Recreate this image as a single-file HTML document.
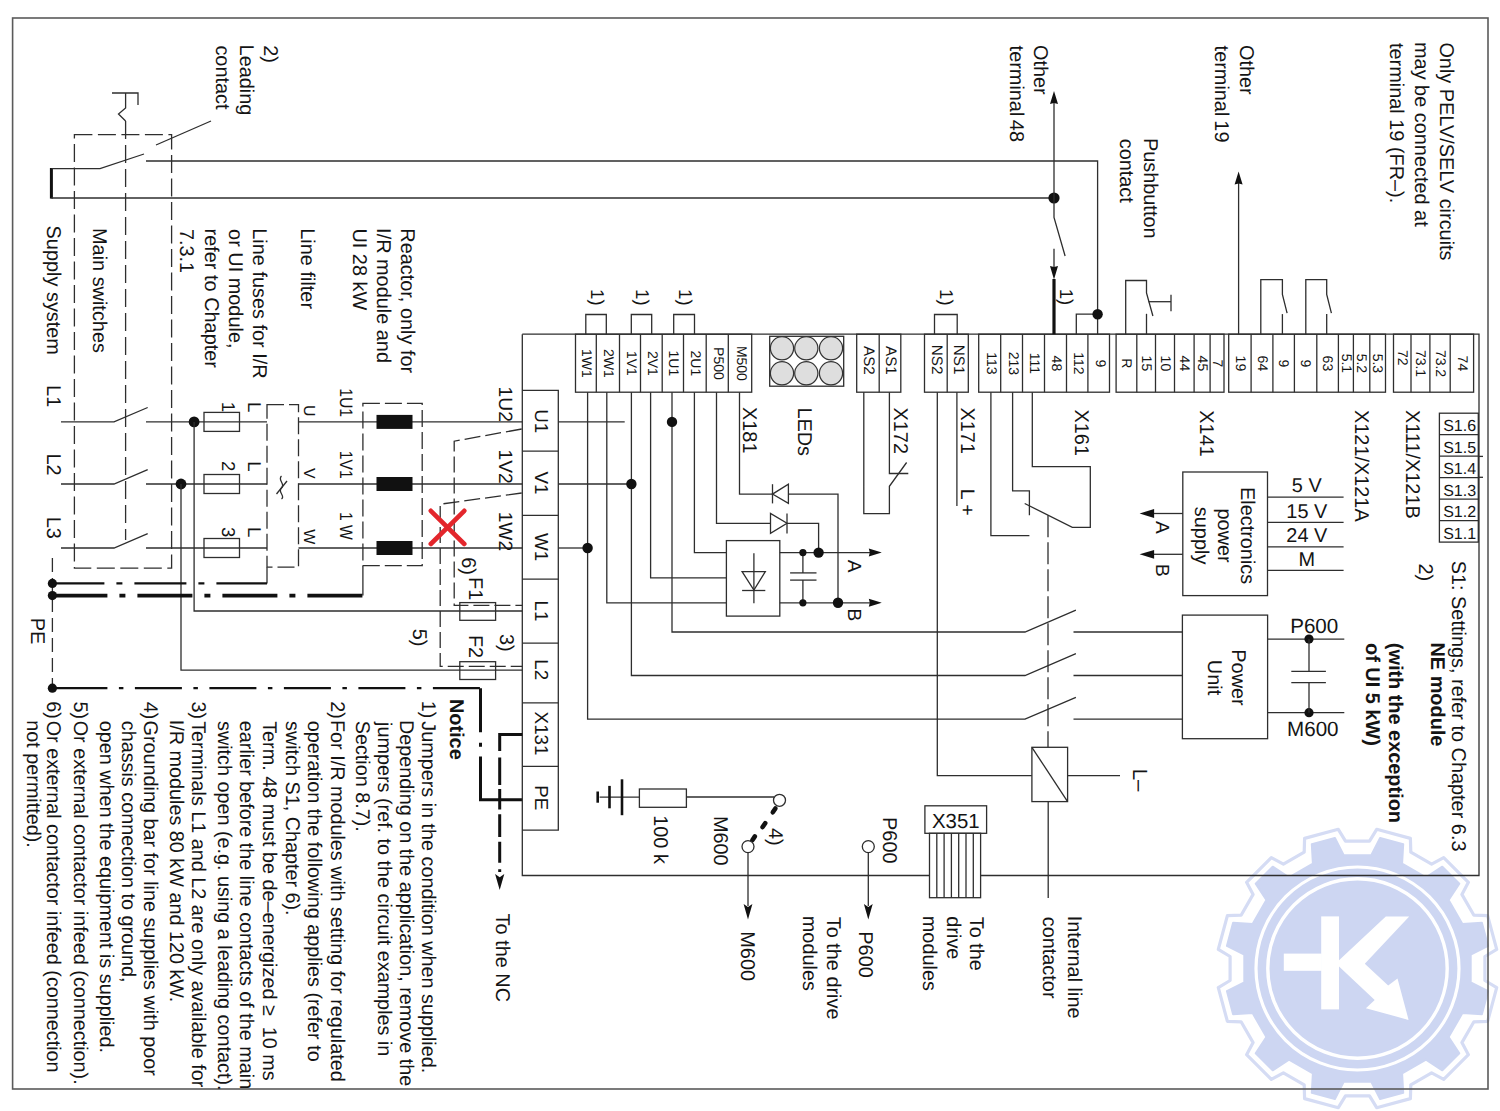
<!DOCTYPE html>
<html><head><meta charset="utf-8"><title>NE module wiring</title>
<style>html,body{margin:0;padding:0;background:#fff;overflow:hidden}svg{display:block}
text{font-family:"Liberation Sans", sans-serif;text-rendering:geometricPrecision}</style></head>
<body><svg width="1500" height="1111" viewBox="0 0 1500 1111">
<rect x="0" y="0" width="1500" height="1111" fill="#fff"/>
<path d="M1484.9,980.5 L1496.7,987.7 L1487.6,1021.4 L1473.9,1021.8 L1461.9,1042.6 L1468.4,1054.7 L1443.7,1079.4 L1431.6,1072.9 L1410.8,1084.9 L1410.4,1098.6 L1376.7,1107.7 L1369.5,1095.9 L1345.5,1095.9 L1338.3,1107.7 L1304.6,1098.6 L1304.2,1084.9 L1283.4,1072.9 L1271.3,1079.4 L1246.6,1054.7 L1253.1,1042.6 L1241.1,1021.8 L1227.4,1021.4 L1218.3,987.7 L1230.1,980.5 L1230.1,956.5 L1218.3,949.3 L1227.4,915.6 L1241.1,915.2 L1253.1,894.4 L1246.6,882.3 L1271.3,857.6 L1283.4,864.1 L1304.2,852.1 L1304.6,838.4 L1338.3,829.3 L1345.5,841.1 L1369.5,841.1 L1376.7,829.3 L1410.4,838.4 L1410.8,852.1 L1431.6,864.1 L1443.7,857.6 L1468.4,882.3 L1461.9,894.4 L1473.9,915.2 L1487.6,915.6 L1496.7,949.3 L1484.9,956.5 Z" fill="none" stroke="#d5dcf4" stroke-width="3.2" stroke-linejoin="round"/>
<path d="M1470.7,982.3 L1488.1,991.1 L1481.9,1014.2 L1462.4,1013.1 L1448.6,1037.0 L1459.3,1053.3 L1442.3,1070.3 L1426.0,1059.6 L1402.1,1073.4 L1403.2,1092.9 L1380.1,1099.1 L1371.3,1081.7 L1343.7,1081.7 L1334.9,1099.1 L1311.8,1092.9 L1312.9,1073.4 L1289.0,1059.6 L1272.7,1070.3 L1255.7,1053.3 L1266.4,1037.0 L1252.6,1013.1 L1233.1,1014.2 L1226.9,991.1 L1244.3,982.3 L1244.3,954.7 L1226.9,945.9 L1233.1,922.8 L1252.6,923.9 L1266.4,900.0 L1255.7,883.7 L1272.7,866.7 L1289.0,877.4 L1312.9,863.6 L1311.8,844.1 L1334.9,837.9 L1343.7,855.3 L1371.3,855.3 L1380.1,837.9 L1403.2,844.1 L1402.1,863.6 L1426.0,877.4 L1442.3,866.7 L1459.3,883.7 L1448.6,900.0 L1462.4,923.9 L1481.9,922.8 L1488.1,945.9 L1470.7,954.7 Z" fill="#cdd6f2" stroke="#cdd6f2" stroke-width="2" stroke-linejoin="round"/>
<circle cx="1357.5" cy="968.5" r="101.5" fill="none" stroke="#fff" stroke-width="3.2"/>
<circle cx="1357.5" cy="968.5" r="89.7" fill="none" stroke="#fff" stroke-width="3.4"/>
<rect x="1321.2" y="916.4" width="17.8" height="93" fill="#fff"/>
<rect x="1283.8" y="953.6" width="38" height="17.2" fill="#fff"/>
<polygon points="1338.5,960.8 1385.8,916.4 1409.2,916.4 1364.8,963.8 1388.2,985.4 1397.5,978.4 1408.6,1019.9 1365.9,1008.2 1374.7,1000 1338.5,966.1" fill="#fff"/>
<rect x="12.6" y="18" width="1475.4" height="1071" fill="none" stroke="#5a5a5a" stroke-width="1.6"/>
<polyline points="51.4,168 51.4,198.6" fill="none" stroke="#111" stroke-width="3"/>
<polyline points="51.4,168.6 100,168.6 144,154" fill="none" stroke="#2e2e2e" stroke-width="1.3"/>
<polyline points="146,161 1097.6,161 1097.6,334.2" fill="none" stroke="#2e2e2e" stroke-width="1.3"/>
<polyline points="156,145 211,121" fill="none" stroke="#2e2e2e" stroke-width="1.3"/>
<polyline points="51.4,198 1054,198" fill="none" stroke="#2e2e2e" stroke-width="1.3"/>
<circle cx="1054" cy="198" r="5.6" fill="#111"/>
<rect x="74.4" y="134.6" width="97.2" height="433.5" fill="none" stroke="#2e2e2e" stroke-width="1.3" stroke-dasharray="18 5.5"/>
<polyline points="112,93 138,93 138,105" fill="none" stroke="#2e2e2e" stroke-width="1.3"/>
<polyline points="125.6,93 125.6,108 118.5,114 125.6,121" fill="none" stroke="#2e2e2e" stroke-width="1.3"/>
<polyline points="125.6,121 125.6,540" fill="none" stroke="#2e2e2e" stroke-width="1.3" stroke-dasharray="18 6"/>
<polyline points="61,421.9 114,421.9 147.7,407.5" fill="none" stroke="#2e2e2e" stroke-width="1.3"/>
<polyline points="146,421.9 267,421.9" fill="none" stroke="#2e2e2e" stroke-width="1.3"/>
<polyline points="298.5,421.9 522.3,421.9" fill="none" stroke="#2e2e2e" stroke-width="1.3"/>
<polyline points="61,484 114,484 147.7,469.6" fill="none" stroke="#2e2e2e" stroke-width="1.3"/>
<polyline points="146,484 267,484" fill="none" stroke="#2e2e2e" stroke-width="1.3"/>
<polyline points="298.5,484 522.3,484" fill="none" stroke="#2e2e2e" stroke-width="1.3"/>
<polyline points="61,548 114,548 147.7,533.6" fill="none" stroke="#2e2e2e" stroke-width="1.3"/>
<polyline points="146,548 267,548" fill="none" stroke="#2e2e2e" stroke-width="1.3"/>
<polyline points="298.5,548 522.3,548" fill="none" stroke="#2e2e2e" stroke-width="1.3"/>
<polyline points="558.3,421.9 624.7,421.9" fill="none" stroke="#2e2e2e" stroke-width="1.3"/>
<polyline points="558.3,484 631.4,484" fill="none" stroke="#2e2e2e" stroke-width="1.3"/>
<polyline points="558.3,548 587.6,548" fill="none" stroke="#2e2e2e" stroke-width="1.3"/>
<circle cx="194.1" cy="421.9" r="5.4" fill="#111"/>
<circle cx="181" cy="484" r="5.4" fill="#111"/>
<polyline points="194.1,421.9 194.1,611 522.3,611" fill="none" stroke="#2e2e2e" stroke-width="1.3"/>
<polyline points="181,484 181,670.2 522.3,670.2" fill="none" stroke="#2e2e2e" stroke-width="1.3"/>
<rect x="204" y="412.4" width="35.5" height="19" fill="none" stroke="#2e2e2e" stroke-width="1.3"/>
<rect x="204" y="474.5" width="35.5" height="19" fill="none" stroke="#2e2e2e" stroke-width="1.3"/>
<rect x="204" y="538.5" width="35.5" height="19" fill="none" stroke="#2e2e2e" stroke-width="1.3"/>
<text transform="translate(46.7 385.1) rotate(90)" font-size="19.9" fill="#141414">L1</text>
<text transform="translate(46.7 453.4) rotate(90)" font-size="19.9" fill="#141414">L2</text>
<text transform="translate(46.7 516.7) rotate(90)" font-size="19.9" fill="#141414">L3</text>
<text transform="translate(222.4 401.8) rotate(90)" font-size="18.5" fill="#141414">1</text>
<text transform="translate(222.4 461) rotate(90)" font-size="18.5" fill="#141414">2</text>
<text transform="translate(222.4 526.9) rotate(90)" font-size="18.5" fill="#141414">3</text>
<text transform="translate(247.6 401.9) rotate(90)" font-size="18.5" fill="#141414">L</text>
<text transform="translate(247.6 461.3) rotate(90)" font-size="18.5" fill="#141414">L</text>
<text transform="translate(247.6 527) rotate(90)" font-size="18.5" fill="#141414">L</text>
<rect x="267" y="404.7" width="31.5" height="162.5" fill="none" stroke="#2e2e2e" stroke-width="1.3" stroke-dasharray="17 5"/>
<path d="M281.5,476 C277,480 286,484 281.5,488 C277,492 286,496 281.5,499" fill="none" stroke="#2e2e2e" stroke-width="1.3"/>
<polyline points="276.5,494 287,481" fill="none" stroke="#2e2e2e" stroke-width="1.3"/>
<text transform="translate(304.3 404.9) rotate(90)" font-size="16" fill="#141414">U</text>
<text transform="translate(304.3 468.1) rotate(90)" font-size="16" fill="#141414">V</text>
<text transform="translate(304.3 529.3) rotate(90)" font-size="16" fill="#141414">W</text>
<rect x="362.9" y="403.4" width="59.3" height="162.3" fill="none" stroke="#2e2e2e" stroke-width="1.3" stroke-dasharray="17 5"/>
<rect x="376.5" y="414.9" width="36" height="14" fill="#111"/>
<rect x="376.5" y="477" width="36" height="14" fill="#111"/>
<rect x="376.5" y="541" width="36" height="14" fill="#111"/>
<text transform="translate(340.2 388.2) rotate(90) scale(0.873 1)" font-size="18" fill="#141414">1U1</text>
<text transform="translate(340.2 450.8) rotate(90) scale(0.873 1)" font-size="18" fill="#141414">1V1</text>
<text transform="translate(340.2 512) rotate(90) scale(0.873 1)" font-size="18" fill="#141414">1 W</text>
<text transform="translate(499 386.6) rotate(90)" font-size="19.2" fill="#141414">1U2</text>
<text transform="translate(499 449.6) rotate(90)" font-size="19.2" fill="#141414">1V2</text>
<text transform="translate(499 511.7) rotate(90)" font-size="19.2" fill="#141414">1W2</text>
<polyline points="267,567.2 267,583.4" fill="none" stroke="#2e2e2e" stroke-width="1.3"/>
<polyline points="362.9,565.7 362.9,595.6" fill="none" stroke="#2e2e2e" stroke-width="1.3"/>
<polyline points="52.4,583.4 267,583.4" fill="none" stroke="#111" stroke-width="2.2" stroke-dasharray="52 12 6 12"/>
<polyline points="52.4,595.6 362.9,595.6" fill="none" stroke="#111" stroke-width="3.6" stroke-dasharray="55 12 6 12"/>
<polyline points="52.4,688.2 480.7,688.2" fill="none" stroke="#111" stroke-width="2.2" stroke-dasharray="55 11.5 4.5 11.5 47 11.5 4.5 11.5 47 11.5 4.5 11.5 47 11.5 4.5 11.5 47 11.5 4.5 11.5 47 11.5 4.5 11.5"/>
<polyline points="480.5,688.2 480.5,799.7 522.3,799.7" fill="none" stroke="#111" stroke-width="3" stroke-dasharray="44 10.5 4 9.7 300"/>
<polyline points="52.4,558 52.4,692" fill="none" stroke="#2e2e2e" stroke-width="1.3" stroke-dasharray="14 6"/>
<circle cx="52.4" cy="583.4" r="4.6" fill="#111"/>
<circle cx="52.4" cy="595.6" r="4.6" fill="#111"/>
<circle cx="52.4" cy="688.2" r="4.6" fill="#111"/>
<text transform="translate(30.8 617.8) rotate(90)" font-size="19.9" fill="#141414">PE</text>
<polyline points="521.7,429 454.2,441.2 454.2,605.4 522.3,605.4" fill="none" stroke="#2e2e2e" stroke-width="1.3" stroke-dasharray="16 5"/>
<polyline points="521.7,493 440.2,504.2 440.2,666.4 522.3,666.4" fill="none" stroke="#2e2e2e" stroke-width="1.3" stroke-dasharray="16 5"/>
<rect x="459.8" y="602.6" width="35.8" height="17.7" fill="none" stroke="#2e2e2e" stroke-width="1.3"/>
<rect x="459.8" y="661.7" width="35.8" height="17.8" fill="none" stroke="#2e2e2e" stroke-width="1.3"/>
<text transform="translate(468.9 577.1) rotate(90)" font-size="19.9" fill="#141414">F1</text>
<text transform="translate(468.9 634.9) rotate(90)" font-size="19.9" fill="#141414">F2</text>
<text transform="translate(500 633.9) rotate(90)" font-size="19.9" fill="#141414">3)</text>
<text transform="translate(413 628.8) rotate(90)" font-size="19.9" fill="#141414">5)</text>
<text transform="translate(461.5 557.2) rotate(90)" font-size="19.9" fill="#141414">6)</text>
<polyline points="430.8,510.8 464.3,544" fill="none" stroke="#e3262c" stroke-width="4.6" stroke-linecap="round"/>
<polyline points="430.8,544 464.3,510.8" fill="none" stroke="#e3262c" stroke-width="4.6" stroke-linecap="round"/>
<polyline points="522.3,334.2 1479,334.2 1479,875.5 980.6,875.5" fill="none" stroke="#2e2e2e" stroke-width="1.3"/>
<polyline points="929.5,875.5 522.3,875.5 522.3,334.2" fill="none" stroke="#2e2e2e" stroke-width="1.3"/>
<polyline points="522.3,390.4 558.3,390.4 558.3,830.1 522.3,830.1" fill="none" stroke="#2e2e2e" stroke-width="1.3"/>
<polyline points="522.3,451.1 558.3,451.1" fill="none" stroke="#2e2e2e" stroke-width="1.3"/>
<polyline points="522.3,515.4 558.3,515.4" fill="none" stroke="#2e2e2e" stroke-width="1.3"/>
<polyline points="522.3,579.2 558.3,579.2" fill="none" stroke="#2e2e2e" stroke-width="1.3"/>
<polyline points="522.3,643.1 558.3,643.1" fill="none" stroke="#2e2e2e" stroke-width="1.3"/>
<polyline points="522.3,702.8 558.3,702.8" fill="none" stroke="#2e2e2e" stroke-width="1.3"/>
<polyline points="522.3,766.3 558.3,766.3" fill="none" stroke="#2e2e2e" stroke-width="1.3"/>
<text transform="translate(534.6 409.2) rotate(90)" font-size="18.8" fill="#141414">U1</text>
<text transform="translate(534.6 471.5) rotate(90)" font-size="18.8" fill="#141414">V1</text>
<text transform="translate(534.6 532.9) rotate(90)" font-size="18.8" fill="#141414">W1</text>
<text transform="translate(534.6 600.5) rotate(90)" font-size="18.8" fill="#141414">L1</text>
<text transform="translate(534.6 659.3) rotate(90)" font-size="18.8" fill="#141414">L2</text>
<text transform="translate(534.6 711.6) rotate(90)" font-size="18.8" fill="#141414">X131</text>
<text transform="translate(534.6 785.3) rotate(90)" font-size="18.8" fill="#141414">PE</text>
<polyline points="522.3,734.6 499.7,734.6 499.7,872" fill="none" stroke="#111" stroke-width="3" stroke-dasharray="39 6.5 27.6 4 20.3 4.8 22.8 4.8 21 6.5"/>
<polygon points="499.7,890 495.1,874 499.7,877.2 504.3,874" fill="#111"/>
<text transform="translate(495.5 913.6) rotate(90)" font-size="19.9" fill="#141414">To the NC</text>
<text transform="translate(449.6 698.9) rotate(90)" font-size="19.9" font-weight="bold" fill="#141414">Notice</text>
<rect x="575.5" y="334.2" width="176.2" height="58" fill="none" stroke="#2e2e2e" stroke-width="1.3"/>
<polyline points="596.3,334.2 596.3,392.2" fill="none" stroke="#2e2e2e" stroke-width="1.3"/>
<polyline points="619.5,334.2 619.5,392.2" fill="none" stroke="#2e2e2e" stroke-width="1.3"/>
<polyline points="640.5,334.2 640.5,392.2" fill="none" stroke="#2e2e2e" stroke-width="1.3"/>
<polyline points="662.2,334.2 662.2,392.2" fill="none" stroke="#2e2e2e" stroke-width="1.3"/>
<polyline points="683.5,334.2 683.5,392.2" fill="none" stroke="#2e2e2e" stroke-width="1.3"/>
<polyline points="706.2,334.2 706.2,392.2" fill="none" stroke="#2e2e2e" stroke-width="1.3"/>
<polyline points="728.3,334.2 728.3,392.2" fill="none" stroke="#2e2e2e" stroke-width="1.3"/>
<text transform="translate(582.4 363.4) rotate(90)" font-size="14" text-anchor="middle" fill="#141414">1W1</text>
<text transform="translate(604.4 363.4) rotate(90)" font-size="14" text-anchor="middle" fill="#141414">2W1</text>
<text transform="translate(626.5 363.4) rotate(90)" font-size="14" text-anchor="middle" fill="#141414">1V1</text>
<text transform="translate(647.8 363.4) rotate(90)" font-size="14" text-anchor="middle" fill="#141414">2V1</text>
<text transform="translate(669.3 363.4) rotate(90)" font-size="14" text-anchor="middle" fill="#141414">1U1</text>
<text transform="translate(691.3 363.4) rotate(90)" font-size="14" text-anchor="middle" fill="#141414">2U1</text>
<text transform="translate(713.7 363.4) rotate(90)" font-size="14" text-anchor="middle" fill="#141414">P500</text>
<text transform="translate(736.5 363.4) rotate(90)" font-size="14" text-anchor="middle" fill="#141414">M500</text>
<rect x="856.7" y="334.2" width="44.1" height="58" fill="none" stroke="#2e2e2e" stroke-width="1.3"/>
<polyline points="879.2,334.2 879.2,392.2" fill="none" stroke="#2e2e2e" stroke-width="1.3"/>
<text transform="translate(863.7 360.4) rotate(90)" font-size="15.2" text-anchor="middle" fill="#141414">AS2</text>
<text transform="translate(885.7 360.4) rotate(90)" font-size="15.2" text-anchor="middle" fill="#141414">AS1</text>
<rect x="924.5" y="334.2" width="43.8" height="58" fill="none" stroke="#2e2e2e" stroke-width="1.3"/>
<polyline points="947.2,334.2 947.2,392.2" fill="none" stroke="#2e2e2e" stroke-width="1.3"/>
<text transform="translate(931.6 359.6) rotate(90)" font-size="15.2" text-anchor="middle" fill="#141414">NS2</text>
<text transform="translate(953.5 359.6) rotate(90)" font-size="15.2" text-anchor="middle" fill="#141414">NS1</text>
<rect x="978.7" y="334.2" width="130.8" height="58" fill="none" stroke="#2e2e2e" stroke-width="1.3"/>
<polyline points="1000.7,334.2 1000.7,392.2" fill="none" stroke="#2e2e2e" stroke-width="1.3"/>
<polyline points="1022.5,334.2 1022.5,392.2" fill="none" stroke="#2e2e2e" stroke-width="1.3"/>
<polyline points="1044.5,334.2 1044.5,392.2" fill="none" stroke="#2e2e2e" stroke-width="1.3"/>
<polyline points="1066.5,334.2 1066.5,392.2" fill="none" stroke="#2e2e2e" stroke-width="1.3"/>
<polyline points="1087.9,334.2 1087.9,392.2" fill="none" stroke="#2e2e2e" stroke-width="1.3"/>
<text transform="translate(986.6 363.4) rotate(90)" font-size="14" text-anchor="middle" fill="#141414">113</text>
<text transform="translate(1008.5 363.4) rotate(90)" font-size="14" text-anchor="middle" fill="#141414">213</text>
<text transform="translate(1030.4 363.4) rotate(90)" font-size="14" text-anchor="middle" fill="#141414">111</text>
<text transform="translate(1052.4 363.4) rotate(90)" font-size="14" text-anchor="middle" fill="#141414">48</text>
<text transform="translate(1074.1 363.4) rotate(90)" font-size="14" text-anchor="middle" fill="#141414">112</text>
<text transform="translate(1095.6 363.4) rotate(90)" font-size="14" text-anchor="middle" fill="#141414">9</text>
<rect x="1116.1" y="334.2" width="107.9" height="58" fill="none" stroke="#2e2e2e" stroke-width="1.3"/>
<polyline points="1136.8,334.2 1136.8,392.2" fill="none" stroke="#2e2e2e" stroke-width="1.3"/>
<polyline points="1155.5,334.2 1155.5,392.2" fill="none" stroke="#2e2e2e" stroke-width="1.3"/>
<polyline points="1174.5,334.2 1174.5,392.2" fill="none" stroke="#2e2e2e" stroke-width="1.3"/>
<polyline points="1194.1,334.2 1194.1,392.2" fill="none" stroke="#2e2e2e" stroke-width="1.3"/>
<polyline points="1210.1,334.2 1210.1,392.2" fill="none" stroke="#2e2e2e" stroke-width="1.3"/>
<text transform="translate(1122 363.4) rotate(90)" font-size="14" text-anchor="middle" fill="#141414">R</text>
<text transform="translate(1141.7 363.4) rotate(90)" font-size="14" text-anchor="middle" fill="#141414">15</text>
<text transform="translate(1160.6 363.4) rotate(90)" font-size="14" text-anchor="middle" fill="#141414">10</text>
<text transform="translate(1179.9 363.4) rotate(90)" font-size="14" text-anchor="middle" fill="#141414">44</text>
<text transform="translate(1197.7 363.4) rotate(90)" font-size="14" text-anchor="middle" fill="#141414">45</text>
<text transform="translate(1212.6 363.4) rotate(90)" font-size="14" text-anchor="middle" fill="#141414">7</text>
<rect x="1228.7" y="334.2" width="156.8" height="58" fill="none" stroke="#2e2e2e" stroke-width="1.3"/>
<polyline points="1251.1,334.2 1251.1,392.2" fill="none" stroke="#2e2e2e" stroke-width="1.3"/>
<polyline points="1272.9,334.2 1272.9,392.2" fill="none" stroke="#2e2e2e" stroke-width="1.3"/>
<polyline points="1294.4,334.2 1294.4,392.2" fill="none" stroke="#2e2e2e" stroke-width="1.3"/>
<polyline points="1316.8,334.2 1316.8,392.2" fill="none" stroke="#2e2e2e" stroke-width="1.3"/>
<polyline points="1338.4,334.2 1338.4,392.2" fill="none" stroke="#2e2e2e" stroke-width="1.3"/>
<polyline points="1353.4,334.2 1353.4,392.2" fill="none" stroke="#2e2e2e" stroke-width="1.3"/>
<polyline points="1369.8,334.2 1369.8,392.2" fill="none" stroke="#2e2e2e" stroke-width="1.3"/>
<text transform="translate(1235.5 363.4) rotate(90)" font-size="14" text-anchor="middle" fill="#141414">19</text>
<text transform="translate(1257.6 363.4) rotate(90)" font-size="14" text-anchor="middle" fill="#141414">64</text>
<text transform="translate(1279.2 363.4) rotate(90)" font-size="14" text-anchor="middle" fill="#141414">9</text>
<text transform="translate(1301.2 363.4) rotate(90)" font-size="14" text-anchor="middle" fill="#141414">9</text>
<text transform="translate(1323.2 363.4) rotate(90)" font-size="14" text-anchor="middle" fill="#141414">63</text>
<text transform="translate(1341.5 363.4) rotate(90)" font-size="14" text-anchor="middle" fill="#141414">5.1</text>
<text transform="translate(1357.2 363.4) rotate(90)" font-size="14" text-anchor="middle" fill="#141414">5.2</text>
<text transform="translate(1373.2 363.4) rotate(90)" font-size="14" text-anchor="middle" fill="#141414">5.3</text>
<rect x="1393.5" y="334.2" width="80.1" height="58" fill="none" stroke="#2e2e2e" stroke-width="1.3"/>
<polyline points="1411,334.2 1411,392.2" fill="none" stroke="#2e2e2e" stroke-width="1.3"/>
<polyline points="1429.9,334.2 1429.9,392.2" fill="none" stroke="#2e2e2e" stroke-width="1.3"/>
<polyline points="1450.2,334.2 1450.2,392.2" fill="none" stroke="#2e2e2e" stroke-width="1.3"/>
<text transform="translate(1397.8 349.9) rotate(90)" font-size="14" fill="#141414">72</text>
<text transform="translate(1416 349.9) rotate(90)" font-size="14" fill="#141414">73.1</text>
<text transform="translate(1435.7 349.9) rotate(90)" font-size="14" fill="#141414">73.2</text>
<text transform="translate(1457.5 363.4) rotate(90)" font-size="14" text-anchor="middle" fill="#141414">74</text>
<polyline points="585.8,334.2 585.8,314.5 606.3,314.5 606.3,334.2" fill="none" stroke="#2e2e2e" stroke-width="1.3"/>
<text transform="translate(590.5 289.1) rotate(90)" font-size="18.5" fill="#141414">1)</text>
<polyline points="631.3,334.2 631.3,314.5 651.7,314.5 651.7,334.2" fill="none" stroke="#2e2e2e" stroke-width="1.3"/>
<text transform="translate(636 289.1) rotate(90)" font-size="18.5" fill="#141414">1)</text>
<polyline points="673.7,334.2 673.7,314.5 694.5,314.5 694.5,334.2" fill="none" stroke="#2e2e2e" stroke-width="1.3"/>
<text transform="translate(678.6 289.1) rotate(90)" font-size="18.5" fill="#141414">1)</text>
<polyline points="934.5,334.2 934.5,314.5 957.2,314.5 957.2,334.2" fill="none" stroke="#2e2e2e" stroke-width="1.3"/>
<text transform="translate(940.4 289.1) rotate(90)" font-size="18.5" fill="#141414">1)</text>
<text transform="translate(1060 288.8) rotate(90)" font-size="18.5" fill="#141414">1)</text>
<rect x="769.7" y="336.3" width="74" height="49.9" fill="none" stroke="#2e2e2e" stroke-width="1.3"/>
<circle cx="782" cy="348.3" r="11.6" fill="#dedede" stroke="#333" stroke-width="1.2"/>
<circle cx="806.3" cy="348.3" r="11.6" fill="#dedede" stroke="#333" stroke-width="1.2"/>
<circle cx="831" cy="348.3" r="11.6" fill="#dedede" stroke="#333" stroke-width="1.2"/>
<circle cx="782" cy="373.3" r="11.6" fill="#dedede" stroke="#333" stroke-width="1.2"/>
<circle cx="806.3" cy="373.3" r="11.6" fill="#dedede" stroke="#333" stroke-width="1.2"/>
<circle cx="831" cy="373.3" r="11.6" fill="#dedede" stroke="#333" stroke-width="1.2"/>
<text transform="translate(743.3 407) rotate(90)" font-size="19.9" fill="#141414">X181</text>
<text transform="translate(798.3 407.4) rotate(90)" font-size="19.9" fill="#141414">LEDs</text>
<text transform="translate(894 407.5) rotate(90)" font-size="19.9" fill="#141414">X172</text>
<text transform="translate(960.8 407.5) rotate(90)" font-size="19.9" fill="#141414">X171</text>
<text transform="translate(1075 409.5) rotate(90)" font-size="19.9" fill="#141414">X161</text>
<text transform="translate(1199.7 410.3) rotate(90)" font-size="19.9" fill="#141414">X141</text>
<text transform="translate(1354.5 410) rotate(90)" font-size="19.9" fill="#141414">X121/X121A</text>
<text transform="translate(1405.5 410) rotate(90)" font-size="19.9" fill="#141414">X111/X121B</text>
<text transform="translate(960.9 488.8) rotate(90)" font-size="19.5" fill="#141414">L +</text>
<polyline points="587.6,392.2 587.6,719.2 1025,719.2 1075.9,697.4" fill="none" stroke="#2e2e2e" stroke-width="1.3"/>
<polyline points="606.8,392.2 606.8,602.8 726.4,602.8" fill="none" stroke="#2e2e2e" stroke-width="1.3"/>
<polyline points="631.4,392.2 631.4,675.5 1025,675.5 1075.9,653.7" fill="none" stroke="#2e2e2e" stroke-width="1.3"/>
<polyline points="650.6,392.2 650.6,577.8 726.4,577.8" fill="none" stroke="#2e2e2e" stroke-width="1.3"/>
<polyline points="672,392.2 672,632 1025,632 1075.9,610.2" fill="none" stroke="#2e2e2e" stroke-width="1.3"/>
<polyline points="694.4,392.2 694.4,552.6 726.4,552.6" fill="none" stroke="#2e2e2e" stroke-width="1.3"/>
<polyline points="716.5,392.2 716.5,523.3 818.6,523.3 818.6,552.6" fill="none" stroke="#2e2e2e" stroke-width="1.3"/>
<polyline points="739.5,392.2 739.5,494.1 838,494.1 838,602.8" fill="none" stroke="#2e2e2e" stroke-width="1.3"/>
<circle cx="587.6" cy="548" r="5.2" fill="#111"/>
<circle cx="631.4" cy="484" r="5.2" fill="#111"/>
<circle cx="672" cy="421.9" r="5.2" fill="#111"/>
<rect x="726.4" y="540.6" width="53.4" height="75.5" fill="#fff" stroke="#2e2e2e" stroke-width="1.3"/>
<polyline points="753.9,553.2 753.9,603.3" fill="none" stroke="#2e2e2e" stroke-width="1.3"/>
<path d="M742.1,571.6 L765.3,571.6 L753.9,590 Z" fill="none" stroke="#2e2e2e" stroke-width="1.3"/>
<polyline points="742.1,590.5 765.3,590.5" fill="none" stroke="#2e2e2e" stroke-width="1.3"/>
<polyline points="779.8,552.6 870,552.6" fill="none" stroke="#2e2e2e" stroke-width="1.3"/>
<polygon points="881.8,552.6 868.8,548.6 869.8,552.6 868.8,556.6" fill="#111"/>
<polyline points="779.8,602.8 870,602.8" fill="none" stroke="#2e2e2e" stroke-width="1.3"/>
<polygon points="881.8,602.8 868.8,598.8 869.8,602.8 868.8,606.8" fill="#111"/>
<polyline points="802.9,552.6 802.9,572.9" fill="none" stroke="#2e2e2e" stroke-width="1.3"/>
<polyline points="802.9,580.1 802.9,602.8" fill="none" stroke="#2e2e2e" stroke-width="1.3"/>
<polyline points="790.1,572.9 816.5,572.9" fill="none" stroke="#2e2e2e" stroke-width="1.3"/>
<polyline points="790.1,580.1 816.5,580.1" fill="none" stroke="#2e2e2e" stroke-width="1.3"/>
<circle cx="802.9" cy="552.6" r="3.6" fill="#111"/>
<circle cx="802.9" cy="602.8" r="3.6" fill="#111"/>
<circle cx="818.6" cy="552.6" r="5.2" fill="#111"/>
<circle cx="838" cy="602.8" r="5.2" fill="#111"/>
<polygon points="788.4,484.2 788.4,503.4 772.5,494.1" fill="#fff" stroke="#2e2e2e" stroke-width="1.3"/>
<polyline points="772.5,484.2 772.5,503.4" fill="none" stroke="#2e2e2e" stroke-width="1.3"/>
<polygon points="770.5,513.4 770.5,533.4 787,523.3" fill="#fff" stroke="#2e2e2e" stroke-width="1.3"/>
<polyline points="787,513.4 787,533.4" fill="none" stroke="#2e2e2e" stroke-width="1.3"/>
<text transform="translate(847.6 559.7) rotate(90)" font-size="19" fill="#141414">A</text>
<text transform="translate(847.6 608.6) rotate(90)" font-size="19" fill="#141414">B</text>
<polyline points="863.8,392.2 863.8,513.6 889.4,513.6 889.4,486.3 906.6,462.5" fill="none" stroke="#2e2e2e" stroke-width="1.3"/>
<polyline points="889.4,392.2 889.4,473.5 908.3,473.5" fill="none" stroke="#2e2e2e" stroke-width="1.3"/>
<polyline points="937.3,392.2 937.3,775.6 1031.9,775.6" fill="none" stroke="#2e2e2e" stroke-width="1.3"/>
<polyline points="956.9,392.2 956.9,506" fill="none" stroke="#2e2e2e" stroke-width="1.3"/>
<polyline points="990.9,392.2 990.9,535.6 1029.4,535.6" fill="none" stroke="#2e2e2e" stroke-width="1.3"/>
<polyline points="1012.6,392.2 1012.6,490.8 1029.4,490.8 1029.4,515.3" fill="none" stroke="#2e2e2e" stroke-width="1.3"/>
<polyline points="1032.3,392.2 1032.3,466.6 1090.3,466.6 1090.3,527.3 1072.3,527.3 1024.7,503.5" fill="none" stroke="#2e2e2e" stroke-width="1.3"/>
<polyline points="1048,515.3 1048,747.3" fill="none" stroke="#2e2e2e" stroke-width="1.3" stroke-dasharray="22 5"/>
<polyline points="1054,198 1054,217.4 1065.1,256" fill="none" stroke="#2e2e2e" stroke-width="1.3"/>
<polyline points="1054,248.8 1054,268" fill="none" stroke="#2e2e2e" stroke-width="1.3"/>
<polygon points="1054,279.4 1050,265.9 1054,267 1058,265.9" fill="#111"/>
<polyline points="1054,279 1054,334.2" fill="none" stroke="#111" stroke-width="3.2"/>
<polyline points="1054,198 1054,102" fill="none" stroke="#2e2e2e" stroke-width="1.3"/>
<polygon points="1054,91 1050,104 1054,103 1058,104" fill="#111"/>
<polyline points="1076.3,334.2 1076.3,314.2 1097.6,314.2" fill="none" stroke="#2e2e2e" stroke-width="1.3"/>
<circle cx="1097.6" cy="314.2" r="5.2" fill="#111"/>
<polyline points="1125.7,334.2 1125.7,280.5 1146.5,280.5 1146.5,293 1152.9,316" fill="none" stroke="#2e2e2e" stroke-width="1.3"/>
<polyline points="1146.5,313.8 1146.5,334.2" fill="none" stroke="#2e2e2e" stroke-width="1.3"/>
<polyline points="1148.5,301.7 1171,301.7" fill="none" stroke="#2e2e2e" stroke-width="1.3"/>
<polyline points="1171,294.7 1171,311.2" fill="none" stroke="#2e2e2e" stroke-width="1.3"/>
<polyline points="1238.6,334.3 1238.6,183" fill="none" stroke="#2e2e2e" stroke-width="1.3"/>
<polygon points="1238.6,171.5 1234.6,184.5 1238.6,183.5 1242.6,184.5" fill="#111"/>
<polyline points="1260.8,334.3 1260.8,279.6 1282.4,279.6 1282.4,294.5 1287.1,313.2" fill="none" stroke="#2e2e2e" stroke-width="1.3"/>
<polyline points="1282.4,314.1 1282.4,334.3" fill="none" stroke="#2e2e2e" stroke-width="1.3"/>
<polyline points="1305.8,334.3 1305.8,279.6 1326.7,279.6 1326.7,294.5 1331.4,313.2" fill="none" stroke="#2e2e2e" stroke-width="1.3"/>
<polyline points="1326.7,314.1 1326.7,334.3" fill="none" stroke="#2e2e2e" stroke-width="1.3"/>
<rect x="1182.8" y="472" width="84.7" height="123.6" fill="none" stroke="#2e2e2e" stroke-width="1.3"/>
<polyline points="1267.5,497.2 1343.6,497.2" fill="none" stroke="#2e2e2e" stroke-width="1.3"/>
<text x="1306.8" y="492.4" font-size="19.9" text-anchor="middle" fill="#141414">5 V</text>
<polyline points="1267.5,522.4 1343.6,522.4" fill="none" stroke="#2e2e2e" stroke-width="1.3"/>
<text x="1306.8" y="517.6" font-size="19.9" text-anchor="middle" fill="#141414">15 V</text>
<polyline points="1267.5,546.9 1343.6,546.9" fill="none" stroke="#2e2e2e" stroke-width="1.3"/>
<text x="1306.8" y="542.1" font-size="19.9" text-anchor="middle" fill="#141414">24 V</text>
<polyline points="1267.5,570.4 1343.6,570.4" fill="none" stroke="#2e2e2e" stroke-width="1.3"/>
<text x="1306.8" y="565.6" font-size="19.9" text-anchor="middle" fill="#141414">M</text>
<text transform="translate(1241 535.6) rotate(90)" font-size="19.9" text-anchor="middle" fill="#141414">Electronics</text>
<text transform="translate(1218 535.6) rotate(90)" font-size="19.9" text-anchor="middle" fill="#141414">power</text>
<text transform="translate(1194.5 535.6) rotate(90)" font-size="19.9" text-anchor="middle" fill="#141414">supply</text>
<polyline points="1182.8,513.5 1151,513.5" fill="none" stroke="#2e2e2e" stroke-width="1.3"/>
<polygon points="1139.6,513.5 1154.1,509.1 1154.1,513.5 1154.1,517.9" fill="#111"/>
<polyline points="1182.8,554.3 1151,554.3" fill="none" stroke="#2e2e2e" stroke-width="1.3"/>
<polygon points="1139.6,554.3 1154.1,549.9 1154.1,554.3 1154.1,558.7" fill="#111"/>
<text transform="translate(1156.4 521.1) rotate(90)" font-size="19" fill="#141414">A</text>
<text transform="translate(1156.4 564) rotate(90)" font-size="19" fill="#141414">B</text>
<rect x="1182.4" y="615.1" width="85.2" height="123.6" fill="none" stroke="#2e2e2e" stroke-width="1.3"/>
<polyline points="1073.5,632 1182.4,632" fill="none" stroke="#2e2e2e" stroke-width="1.3"/>
<polyline points="1073.5,675.5 1182.4,675.5" fill="none" stroke="#2e2e2e" stroke-width="1.3"/>
<polyline points="1073.5,719.2 1182.4,719.2" fill="none" stroke="#2e2e2e" stroke-width="1.3"/>
<text transform="translate(1232 677.5) rotate(90)" font-size="19.9" text-anchor="middle" fill="#141414">Power</text>
<text transform="translate(1207.6 677.5) rotate(90)" font-size="19.9" text-anchor="middle" fill="#141414">Unit</text>
<polyline points="1267.6,639.1 1344.3,639.1" fill="none" stroke="#2e2e2e" stroke-width="1.3"/>
<polyline points="1267.6,712.7 1344.3,712.7" fill="none" stroke="#2e2e2e" stroke-width="1.3"/>
<circle cx="1309" cy="639.1" r="4.6" fill="#111"/>
<circle cx="1309" cy="712.7" r="4.6" fill="#111"/>
<polyline points="1309,639.1 1309,671.3" fill="none" stroke="#2e2e2e" stroke-width="1.3"/>
<polyline points="1309,682.7 1309,712.7" fill="none" stroke="#2e2e2e" stroke-width="1.3"/>
<polyline points="1291.3,671.3 1325.9,671.3" fill="none" stroke="#2e2e2e" stroke-width="1.3"/>
<polyline points="1291.3,682.7 1325.9,682.7" fill="none" stroke="#2e2e2e" stroke-width="1.3"/>
<text x="1314.2" y="633.3" font-size="20.6" text-anchor="middle" fill="#141414">P600</text>
<text x="1312.8" y="736.1" font-size="20.6" text-anchor="middle" fill="#141414">M600</text>
<rect x="1031.9" y="747.3" width="35.7" height="54.3" fill="#fff" stroke="#2e2e2e" stroke-width="1.3"/>
<polyline points="1031.9,747.3 1067.6,801.6" fill="none" stroke="#2e2e2e" stroke-width="1.3"/>
<polyline points="1067.6,775.6 1120,775.6" fill="none" stroke="#2e2e2e" stroke-width="1.3"/>
<polyline points="1048.2,801.6 1048.2,898.1" fill="none" stroke="#2e2e2e" stroke-width="1.3"/>
<text transform="translate(1133 768.7) rotate(90)" font-size="20.5" fill="#141414">L–</text>
<rect x="1439.4" y="413.2" width="38.9" height="128.9" fill="none" stroke="#2e2e2e" stroke-width="1.3"/>
<text x="1459.6" y="431.2" font-size="16" text-anchor="middle" fill="#141414">S1.6</text>
<polyline points="1439.4,434.7 1478.3,434.7" fill="none" stroke="#2e2e2e" stroke-width="1.3"/>
<text x="1459.6" y="452.7" font-size="16" text-anchor="middle" fill="#141414">S1.5</text>
<polyline points="1439.4,456.2 1478.3,456.2" fill="none" stroke="#2e2e2e" stroke-width="1.3"/>
<text x="1459.6" y="474.2" font-size="16" text-anchor="middle" fill="#141414">S1.4</text>
<polyline points="1439.4,477.6 1478.3,477.6" fill="none" stroke="#2e2e2e" stroke-width="1.3"/>
<text x="1459.6" y="495.6" font-size="16" text-anchor="middle" fill="#141414">S1.3</text>
<polyline points="1439.4,499.1 1478.3,499.1" fill="none" stroke="#2e2e2e" stroke-width="1.3"/>
<text x="1459.6" y="517.1" font-size="16" text-anchor="middle" fill="#141414">S1.2</text>
<polyline points="1439.4,520.6 1478.3,520.6" fill="none" stroke="#2e2e2e" stroke-width="1.3"/>
<text x="1459.6" y="538.6" font-size="16" text-anchor="middle" fill="#141414">S1.1</text>
<polyline points="1478.3,456.4 1483,456.4" fill="none" stroke="#2e2e2e" stroke-width="1.3"/>
<polyline points="1478.3,477.3 1483,477.3" fill="none" stroke="#2e2e2e" stroke-width="1.3"/>
<polyline points="599.6,797.1 639.4,797.1" fill="none" stroke="#2e2e2e" stroke-width="1.3"/>
<polyline points="597.7,791.5 597.7,802.7" fill="none" stroke="#111" stroke-width="2.6"/>
<polyline points="609.5,785.9 609.5,808.3" fill="none" stroke="#111" stroke-width="2.6"/>
<polyline points="622,779.3 622,815.2" fill="none" stroke="#111" stroke-width="2.6"/>
<rect x="639.4" y="789" width="47" height="18.3" fill="none" stroke="#2e2e2e" stroke-width="1.3"/>
<polyline points="686.4,797 774,797" fill="none" stroke="#2e2e2e" stroke-width="1.3"/>
<circle cx="779.5" cy="800.3" r="6" fill="#fff" stroke="#2e2e2e" stroke-width="1.3"/>
<polyline points="775.4,808.5 772.8,812.3" fill="none" stroke="#111" stroke-width="4.6" stroke-linecap="round"/>
<polyline points="765.2,823.2 762.6,827" fill="none" stroke="#111" stroke-width="4.6" stroke-linecap="round"/>
<polyline points="754.9,836.4 752.3,840.2" fill="none" stroke="#111" stroke-width="4.6" stroke-linecap="round"/>
<circle cx="748" cy="846.6" r="6" fill="#fff" stroke="#2e2e2e" stroke-width="1.3"/>
<polyline points="748,852.6 748,906" fill="none" stroke="#2e2e2e" stroke-width="1.3"/>
<polygon points="748,919.5 743.6,904 748,907.1 752.4,904" fill="#111"/>
<circle cx="868.3" cy="846.6" r="6" fill="#fff" stroke="#2e2e2e" stroke-width="1.3"/>
<polyline points="868.3,852.6 868.3,906" fill="none" stroke="#2e2e2e" stroke-width="1.3"/>
<polygon points="868.3,919.5 863.9,904 868.3,907.1 872.7,904" fill="#111"/>
<rect x="924.9" y="805.8" width="61.7" height="27.5" fill="none" stroke="#2e2e2e" stroke-width="1.3"/>
<text x="955.8" y="828.4" font-size="20.4" text-anchor="middle" fill="#141414">X351</text>
<rect x="929.5" y="833.3" width="51.1" height="64.4" fill="#fff" stroke="#2e2e2e" stroke-width="1.3"/>
<polyline points="936.8,833.3 936.8,897.7" fill="none" stroke="#2e2e2e" stroke-width="1.3"/>
<polyline points="944.1,833.3 944.1,897.7" fill="none" stroke="#2e2e2e" stroke-width="1.3"/>
<polyline points="951.4,833.3 951.4,897.7" fill="none" stroke="#2e2e2e" stroke-width="1.3"/>
<polyline points="958.7,833.3 958.7,897.7" fill="none" stroke="#2e2e2e" stroke-width="1.3"/>
<polyline points="966,833.3 966,897.7" fill="none" stroke="#2e2e2e" stroke-width="1.3"/>
<polyline points="973.3,833.3 973.3,897.7" fill="none" stroke="#2e2e2e" stroke-width="1.3"/>
<text transform="translate(263.6 45.2) rotate(90)" font-size="19.9" fill="#141414">2)</text>
<text transform="translate(239.6 44.6) rotate(90)" font-size="19.9" fill="#141414">Leading</text>
<text transform="translate(215.6 45.4) rotate(90)" font-size="19.9" fill="#141414">contact</text>
<text transform="translate(1033.7 45) rotate(90)" font-size="19.9" fill="#141414">Other</text>
<text transform="translate(1009.6 45.6) rotate(90)" font-size="19.9" word-spacing="-2" fill="#141414">terminal 48</text>
<text transform="translate(1144.4 137.9) rotate(90)" font-size="19.9" fill="#141414">Pushbutton</text>
<text transform="translate(1120 138.7) rotate(90)" font-size="19.9" fill="#141414">contact</text>
<text transform="translate(1239.9 45) rotate(90)" font-size="19.9" fill="#141414">Other</text>
<text transform="translate(1215 45.6) rotate(90)" font-size="19.9" word-spacing="-1.5" fill="#141414">terminal 19</text>
<text transform="translate(1439.7 42.4) rotate(90)" font-size="19.9" fill="#141414">Only PELV/SELV circuits</text>
<text transform="translate(1414.7 42) rotate(90)" font-size="19.9" fill="#141414">may be connected at</text>
<text transform="translate(1389.7 43) rotate(90)" font-size="19.9" fill="#141414">terminal 19 (FR–).</text>
<text transform="translate(401.4 228.3) rotate(90)" font-size="19.9" fill="#141414">Reactor, only for</text>
<text transform="translate(377.2 228.1) rotate(90)" font-size="19.9" fill="#141414">I/R module and</text>
<text transform="translate(353 228.4) rotate(90)" font-size="19.9" fill="#141414">UI 28 kW</text>
<text transform="translate(300.9 228.3) rotate(90)" font-size="19.9" fill="#141414">Line filter</text>
<text transform="translate(253.2 228.3) rotate(90)" font-size="19.9" fill="#141414">Line fuses for I/R</text>
<text transform="translate(228.9 229.1) rotate(90)" font-size="19.9" fill="#141414">or UI module,</text>
<text transform="translate(204.6 228.6) rotate(90)" font-size="19.9" fill="#141414">refer to Chapter</text>
<text transform="translate(180.3 228.9) rotate(90)" font-size="19.9" fill="#141414">7.3.1</text>
<text transform="translate(92.7 228) rotate(90)" font-size="19.9" fill="#141414">Main switches</text>
<text transform="translate(47.2 225.6) rotate(90)" font-size="19.9" fill="#141414">Supply system</text>
<text transform="translate(1452.3 560.7) rotate(90)" font-size="19.9" fill="#141414">S1: Settings, refer to Chapter 6.3</text>
<text transform="translate(1419 563.5) rotate(90)" font-size="19.9" fill="#141414">2)</text>
<text transform="translate(1430.7 642.5) rotate(90)" font-size="19.9" font-weight="bold" fill="#141414">NE module</text>
<text transform="translate(1389 642.8) rotate(90)" font-size="19.9" font-weight="bold" fill="#141414">(with the exception</text>
<text transform="translate(1366 643) rotate(90)" font-size="19.9" font-weight="bold" fill="#141414">of UI 5 kW)</text>
<text transform="translate(653.7 815.2) rotate(90)" font-size="19.9" fill="#141414">100 k</text>
<text transform="translate(714 815.9) rotate(90)" font-size="19.9" fill="#141414">M600</text>
<text transform="translate(769 827.9) rotate(90)" font-size="19.9" fill="#141414">4)</text>
<text transform="translate(740.7 931.3) rotate(90)" font-size="19.9" fill="#141414">M600</text>
<text transform="translate(882.9 817.1) rotate(90)" font-size="19.9" fill="#141414">P600</text>
<text transform="translate(858.6 931.3) rotate(90)" font-size="19.9" fill="#141414">P600</text>
<text transform="translate(827 916.7) rotate(90)" font-size="19.9" fill="#141414">To the drive</text>
<text transform="translate(803 915.8) rotate(90)" font-size="19.9" fill="#141414">modules</text>
<text transform="translate(970.4 916.7) rotate(90)" font-size="19.9" fill="#141414">To the</text>
<text transform="translate(946.7 916.3) rotate(90)" font-size="19.9" fill="#141414">drive</text>
<text transform="translate(923 915.8) rotate(90)" font-size="19.9" fill="#141414">modules</text>
<text transform="translate(1068.4 915.7) rotate(90)" font-size="19.9" fill="#141414">Internal line</text>
<text transform="translate(1043.4 916.7) rotate(90)" font-size="19.9" fill="#141414">contactor</text>
<text transform="translate(421.8 700.7) rotate(90)" font-size="19.8" fill="#141414">1)</text>
<text transform="translate(421.8 721.3) rotate(90)" font-size="19.8" fill="#141414">Jumpers in the condition when supplied.</text>
<text transform="translate(399.6 720) rotate(90)" font-size="19.8" fill="#141414">Depending on the application, remove the</text>
<text transform="translate(377.8 722.1) rotate(90)" font-size="19.8" fill="#141414">jumpers (ref. to the circuit examples in</text>
<text transform="translate(355.6 720.7) rotate(90)" font-size="19.8" fill="#141414">Section 8.7).</text>
<text transform="translate(330.5 701.2) rotate(90)" font-size="19.8" fill="#141414">2)</text>
<text transform="translate(330.5 720) rotate(90)" font-size="19.8" fill="#141414">For I/R modules with setting for regulated</text>
<text transform="translate(308.2 720.8) rotate(90)" font-size="19.8" fill="#141414">operation the following applies (refer to</text>
<text transform="translate(285.9 721) rotate(90)" font-size="19.8" fill="#141414">switch S1, Chapter 6).</text>
<text transform="translate(263.1 721.2) rotate(90)" font-size="19.8" fill="#141414">Term. 48 must be de–energized ≥  10 ms</text>
<text transform="translate(240.4 720.8) rotate(90)" font-size="19.8" fill="#141414">earlier before the line contacts of the main</text>
<text transform="translate(217.9 721) rotate(90)" font-size="19.8" fill="#141414">switch open (e.g. using a leading contact).</text>
<text transform="translate(191.8 701.4) rotate(90)" font-size="19.8" fill="#141414">3)</text>
<text transform="translate(191.8 721.2) rotate(90)" font-size="19.8" fill="#141414">Terminals L1 and L2 are only available for</text>
<text transform="translate(170.2 719.8) rotate(90)" font-size="19.8" fill="#141414">I/R modules 80 kW and 120 kW.</text>
<text transform="translate(143.5 701.7) rotate(90)" font-size="19.8" fill="#141414">4)</text>
<text transform="translate(143.5 720.6) rotate(90)" font-size="19.8" fill="#141414">Grounding bar for line supplies with poor</text>
<text transform="translate(121.8 720.8) rotate(90)" font-size="19.8" fill="#141414">chassis connection to ground,</text>
<text transform="translate(99.9 720.8) rotate(90)" font-size="19.8" fill="#141414">open when the equipment is supplied.</text>
<text transform="translate(73.7 701.4) rotate(90)" font-size="19.8" fill="#141414">5)</text>
<text transform="translate(73.7 720.7) rotate(90)" font-size="19.8" fill="#141414">Or external contactor infeed (connection).</text>
<text transform="translate(47.3 701.2) rotate(90)" font-size="19.8" fill="#141414">6)</text>
<text transform="translate(47.3 720.7) rotate(90)" font-size="19.8" fill="#141414">Or external contactor infeed (connection</text>
<text transform="translate(26.6 720.3) rotate(90)" font-size="19.8" fill="#141414">not permitted).</text>
</svg></body></html>
